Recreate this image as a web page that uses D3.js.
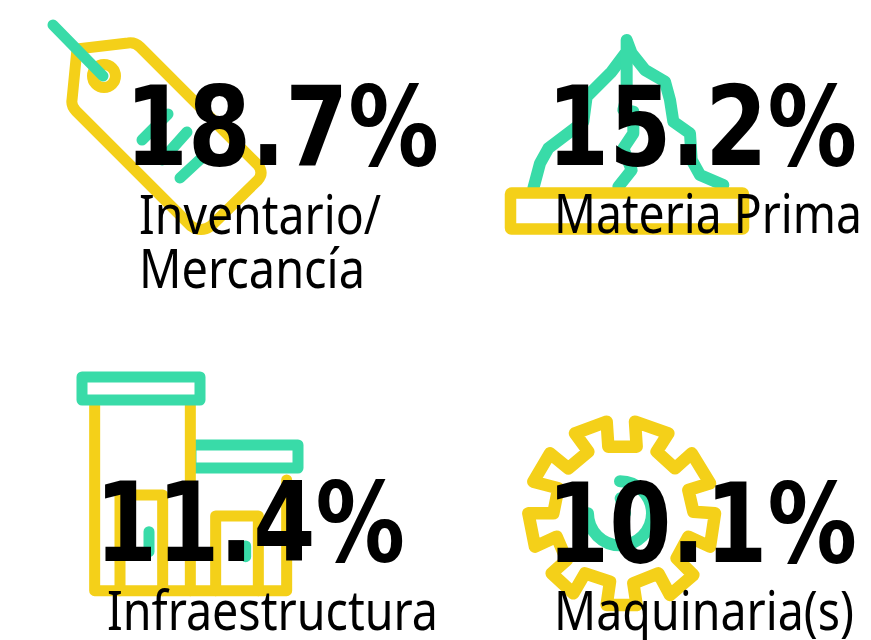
<!DOCTYPE html>
<html>
<head>
<meta charset="utf-8">
<script src="https://cdn.jsdelivr.net/npm/d3@7"></script>
<style>
  html, body { margin: 0; padding: 0; background: #fff; overflow: hidden; }
  svg { display: block; }
</style>
</head>
<body>
<svg id="chart" width="871" height="640"></svg>
<script>
// data
const categories = ["Inventario/\nMercancía", "Materia Prima", "Infraestructura", "Maquinaria(s)"];
const values = [18.7, 15.2, 11.4, 10.1];

const yellow = "#f4d019", green = "#39dba8";
const svg = d3.select("#chart");
const fmt = d3.format(".1f");

// layout of each block: number x/baseline/width, label x/baselines/widths
const layout = [
  {nx: 125, ny: 165, nw: 314, lx: 139, ly: [234, 288], lw: [242, 226]},
  {nx: 547, ny: 165, nw: 310, lx: 554, ly: [233], lw: [308]},
  {nx: 95,  ny: 561, nw: 310, lx: 107, ly: [630], lw: [331]},
  {nx: 547, ny: 562, nw: 310, lx: 554, ly: [630], lw: [300]}
];

function stroke(g, color, width) {
  return g.append("g").attr("fill", "none").attr("stroke", color)
    .attr("stroke-width", width || 11)
    .attr("stroke-linecap", "round").attr("stroke-linejoin", "round");
}
function poly(g, pts, close) {
  return g.append("path").attr("d", d3.line()(pts) + (close ? "Z" : ""));
}
function box(g, x0, y0, x1, y1) {
  return g.append("rect").attr("x", x0).attr("y", y0).attr("width", x1 - x0).attr("height", y1 - y0);
}

//价格标签
function drawTag() {
  let y = stroke(svg, yellow);
  y.append("path").attr("d", "M77,49L128,43Q135,42,140,47L258,165Q264,173,258,180L211,226Q201,233,191,226L76,111Q71,106,72,100Z");
  y.append("circle").attr("cx", 104).attr("cy", 76).attr("r", 11.5);
  let g = stroke(svg, green);
  poly(g, [[53, 25], [103, 76]]);
  poly(g, [[142, 140], [168, 114]]);
  poly(g, [[162, 160], [187, 132]]);
  poly(g, [[180, 178], [207, 153]]);
}

//树
function drawTree() {
  let g = stroke(svg, green, 12);
  let p = (x, y) => [490 + x / 3, 20 + y / 3];
  poly(g, [[130,505],[150,430],[175,385],[280,305],[290,230],[365,155],[410,95],[410,60],[425,100],[465,150],[525,185],[540,240],[550,305],[600,340],[605,420],[630,465],[700,495]].map(d => p(d[0], d[1])));
  poly(g, [[410,95],[410,230],[400,270],[430,275],[430,340],[400,385],[425,450],[385,500]].map(d => p(d[0], d[1])));
  let y = stroke(svg, yellow, 11.5);
  box(y, 510.5, 193, 743.5, 229).attr("rx", 1);
}

//厂房
function drawFactory() {
  let p = (x, y) => [60 + x / 3, 360 + y / 3];
  let g2 = stroke(svg, green);
  box(g2, 191, 445, 298, 468);
  let y = stroke(svg, yellow);
  poly(y, [[104,137],[104,692],[680,692],[680,360]].map(d => p(d[0], d[1])));
  poly(y, [[391,137],[391,692]].map(d => p(d[0], d[1])));
  poly(y, [[180,692],[180,405],[308,405],[308,692]].map(d => p(d[0], d[1])));
  poly(y, [[467,692],[467,468],[595,468],[595,692]].map(d => p(d[0], d[1])));
  let g = stroke(svg, green);
  box(g, 82, 377, 200, 400);
  poly(g, [[267,515],[267,575]].map(d => p(d[0], d[1])));
  poly(g, [[557,558],[557,590]].map(d => p(d[0], d[1])));
}

//齿轮
function drawGear() {
  let p = (x, y) => [510 + x / 3, 405 + y / 3];
  let g = stroke(svg, green, 12);
  let c = p(330, 325);
  g.append("path").attr("transform", "translate(" + c + ")")
    .attr("d", d3.arc()({innerRadius: 32, outerRadius: 32, startAngle: 0, endAngle: Math.PI * 1.5}));
  poly(g, [[332,280],[345,325]].map(d => p(d[0], d[1])));
  let y = stroke(svg, yellow, 12.5);
  poly(y, [[295,125],[380,125],[375,50],[475,85],[440,140],[495,190],[545,145],[600,235],[535,255],[550,320],[615,325],[600,425],[535,395],[500,460],[550,510],[480,570],[445,505],[370,535],[380,600],[290,600],[300,530],[225,505],[190,565],[125,505],[170,465],[140,395],[75,425],[55,325],[130,325],[145,250],[70,230],[120,145],[175,190],[235,140],[195,85],[290,50]].map(d => p(d[0], d[1])), true);
}

drawTag();
drawTree();
drawFactory();
drawGear();

//绘制数字与标签
const blocks = svg.selectAll(".block")
  .data(values.map((v, i) => ({v: v, name: categories[i], pos: layout[i]})))
  .enter().append("g").attr("class", "block");

blocks.append("text")
  .attr("x", d => d.pos.nx)
  .attr("y", d => d.pos.ny)
  .attr("textLength", d => d.pos.nw)
  .attr("lengthAdjust", "spacingAndGlyphs")
  .attr("font-family", "'DejaVu Sans'")
  .attr("font-weight", "bold")
  .attr("font-size", 111)
  .attr("fill", "#000")
  .text(d => fmt(d.v) + "%");

blocks.each(function (d) {
  d3.select(this).selectAll(".label")
    .data(d.name.split("\n"))
    .enter().append("text")
    .attr("class", "label")
    .attr("x", d.pos.lx)
    .attr("y", (t, i) => d.pos.ly[i])
    .attr("textLength", (t, i) => d.pos.lw[i])
    .attr("lengthAdjust", "spacingAndGlyphs")
    .attr("font-family", "'Noto Sans'")
    .attr("font-size", 54)
    .attr("fill", "#000")
    .text(t => t);
});
</script>
</body>
</html>
